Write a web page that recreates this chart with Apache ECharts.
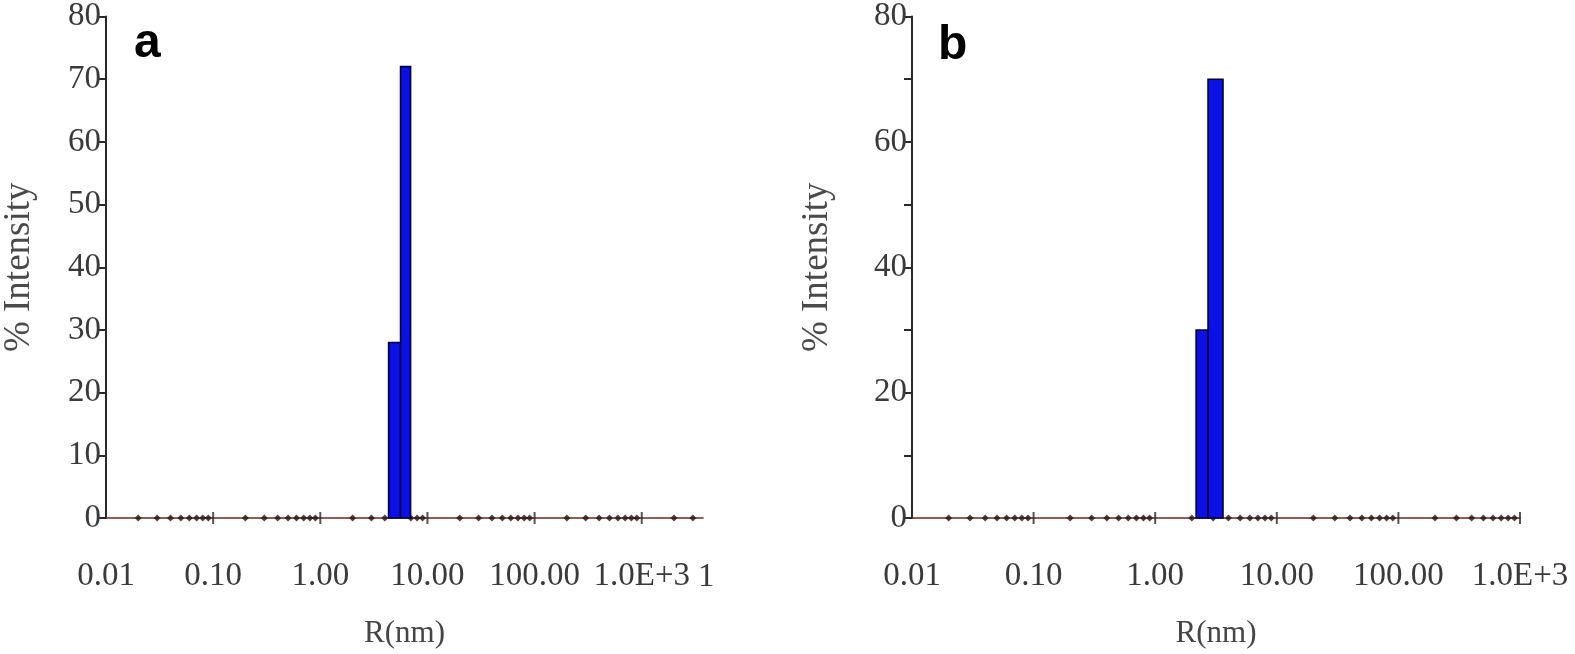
<!DOCTYPE html>
<html>
<head>
<meta charset="utf-8">
<script src="https://cdn.jsdelivr.net/npm/echarts@6/dist/echarts.min.js"></script>
<style>
html,body{margin:0;padding:0;background:#fff;}
#c{width:1575px;height:654px;}
</style>
</head>
<body>
<div id="c"></div>
<script>
// ---- data ----
// histogram bins: [lower R (nm), upper R (nm), % intensity]
const binsA = [[4.34, 5.61, 28], [5.61, 6.96, 72]];
const binsB = [[2.17, 2.72, 30], [2.72, 3.61, 70]];
// baseline points of the size distribution (intensity 0)
const zeroPointsA = [0.02,0.03,0.04,0.05,0.06,0.07,0.08,0.09,
  0.2,0.3,0.4,0.5,0.6,0.7,0.8,0.9,
  2,3,4,7,8,9,
  20,30,40,50,60,70,80,90,
  200,300,400,500,600,700,800,900,
  2000,3000];
const zeroPointsB = [0.02,0.03,0.04,0.05,0.06,0.07,0.08,0.09,
  0.2,0.3,0.4,0.5,0.6,0.7,0.8,0.9,
  2,3,4,5,6,7,8,9,
  20,30,40,50,60,70,80,90,
  200,300,400,500,600,700,800,900];
const xTickValues = [0.01, 0.1, 1, 10, 100, 1000];
const xTickLabels = ['0.01', '0.10', '1.00', '10.00', '100.00', '1.0E+3'];
const yTicksA = [0,10,20,30,40,50,60,70,80];
const yTicksB = [0,20,40,60,80];

const serif = '"Liberation Serif", "DejaVu Serif", serif';
const labelColor = '#3a3a3a';

function xLabel(v){
  for (let i=0;i<xTickValues.length;i++){
    if (Math.abs(Math.log10(v) - Math.log10(xTickValues[i])) < 1e-6) return xTickLabels[i];
  }
  return '';
}

function makeX(idx, max){
  return {
    type:'log', gridIndex: idx, min: 0.01, max: max, logBase: 10,
    axisLine:{show:true, onZero:false, lineStyle:{color:'#6e2626', width:1.6}},
    axisTick:{show:false},
    minorTick:{show:false},
    splitLine:{show:false},
    axisLabel:{show:true, formatter: xLabel, fontFamily: serif, fontSize: 33, color: labelColor, margin: 42, showMaxLabel: true},
    name:'R(nm)', nameLocation:'middle', nameGap: 100,
    nameTextStyle:{fontFamily: serif, fontSize: 31, color: '#454545'}
  };
}
function makeY(idx, labels){
  return {
    type:'value', gridIndex: idx, min:0, max:80, interval:10,
    axisLine:{show:true, lineStyle:{color:'#2a2a2a', width:2}},
    axisTick:{show:true, length:8, lineStyle:{color:'#2a2a2a', width:2}},
    splitLine:{show:false},
    axisLabel:{fontFamily: serif, fontSize: 33, color: labelColor, margin: 5,
      formatter: v => labels.indexOf(v) >= 0 ? String(v) : ''},
    name:'% Intensity', nameLocation:'middle', nameGap: idx===0 ? 68 : 76,
    nameTextStyle:{fontFamily: serif, fontSize: 37, color: '#4a4a4a'}
  };
}

function barRender(params, api){
  const lo = api.value(0), hi = api.value(1), v = api.value(2);
  const p0 = api.coord([lo, v]);
  const p1 = api.coord([hi, 0]);
  return {
    type:'rect',
    shape:{x:p0[0], y:p0[1], width:p1[0]-p0[0], height:p1[1]-p0[1]},
    style:{fill:'#0a10e6', stroke:'#00003a', lineWidth:1.6}
  };
}

function pointSeries(ax, pts){
  return {type:'scatter', xAxisIndex:ax, yAxisIndex:ax, symbol:'diamond', symbolSize:7,
     itemStyle:{color:'#2a1010'}, data: pts.map(x=>[x,0]), z:3, silent:true};
}
function decadeSeries(ax, maxV){
  return {type:'scatter', xAxisIndex:ax, yAxisIndex:ax, symbol:'rect', symbolSize:[2,12],
     itemStyle:{color:'#2a2a2a'}, data: xTickValues.filter(v=>v>0.01 && v<=maxV).map(x=>[x,0]), z:3, silent:true};
}

const chart = echarts.init(document.getElementById('c'), null, {renderer:'canvas'});
chart.setOption({
  backgroundColor:'#ffffff',
  animation:false,
  grid:[
    {left:104, top:15, width:599, height:507},
    {left:912, top:16, width:608, height:504}
  ],
  xAxis:[ makeX(0, 3730), makeX(1, 1000) ],
  yAxis:[ makeY(0, yTicksA), makeY(1, yTicksB) ],
  series:[
    pointSeries(0, zeroPointsA),
    pointSeries(1, zeroPointsB),
    decadeSeries(0, 3730),
    decadeSeries(1, 1000),
    {type:'custom', xAxisIndex:0, yAxisIndex:0, renderItem: barRender, data: binsA, z:4},
    {type:'custom', xAxisIndex:1, yAxisIndex:1, renderItem: barRender, data: binsB, z:4}
  ],
  graphic:[
    {type:'text', left:134, top:20, style:{text:'a', font:'bold 48px "Liberation Sans", Arial, sans-serif', fill:'#000'}},
    {type:'text', left:938, top:22, style:{text:'b', font:'bold 48px "Liberation Sans", Arial, sans-serif', fill:'#000'}},
    {type:'text', left:698, top:561, style:{text:'1', font:'33px "Liberation Serif", serif', fill:'#3a3a3a'}}
  ]
});
</script>
</body>
</html>
